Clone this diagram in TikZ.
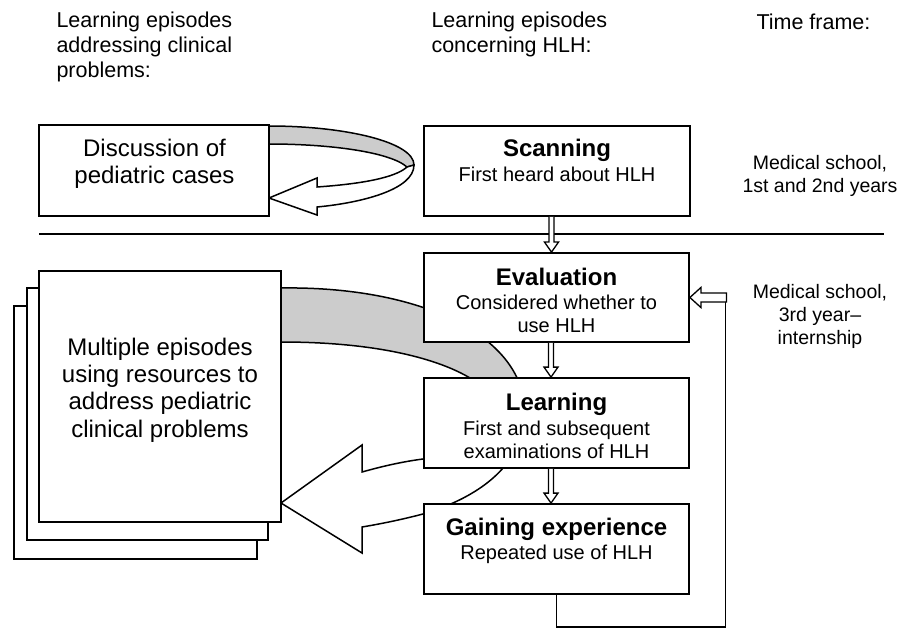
\documentclass[tikz,border=0pt]{standalone}
\usepackage{fontspec}
\setmainfont{Liberation Sans}
\usetikzlibrary{calc}
\newcommand\hollowdown[2]{%
 \draw[hol] let \p1=([xshift=-5.5pt]#1.south), \p2=([xshift=-5.5pt]#2.north) in
  (\x1-2.5pt,\y1) -- (\x1-2.5pt,\y2+10pt) -- (\x1-7pt,\y2+10pt) -- (\x1,\y2) --
  (\x1+7pt,\y2+10pt) -- (\x1+2.5pt,\y2+10pt) -- (\x1+2.5pt,\y1);}
\begin{document}
\begin{tikzpicture}[x=1pt,y=-1pt,
  box/.style={draw,line width=1.8pt,fill=white,inner sep=0pt},
  ttl/.style={font=\bfseries\fontsize{24}{28}\selectfont},
  sub/.style={font=\fontsize{20}{23}\selectfont,align=center},
  big/.style={font=\fontsize{24}{27.3}\selectfont,align=center},
  hdr/.style={font=\fontsize{21.5}{25}\selectfont,align=left,anchor=west},
  tf/.style={font=\fontsize{19.5}{23}\selectfont,align=center},
  band/.style={draw,line width=1.5pt,fill=black!20},
  wband/.style={draw,line width=1.5pt,fill=white,line join=miter},
  hol/.style={draw,line width=1.3pt,fill=white},
  rule/.style={line width=1.5pt},
  fb/.style={line width=1.7pt}]
\useasboundingbox (0,0) rectangle (904,628);

% header texts
\node[hdr] (h1) at (53,47) {Learning episodes\\addressing clinical\\problems:};
\node[hdr] (h2) at (428,34.5) {Learning episodes\\concerning HLH:};
\node[hdr] (h3) at (753,22) {Time frame:};

% divider
\draw[rule] (39,234) -- (884,234);

% loop ribbon next to discussion box
\path[band] (269,126) .. controls (345,126) and (414,142) .. (414,165) -- (407,167)
  .. controls (390,152) and (330,144) .. (269,144) -- cycle;
\path[wband] (407,167) .. controls (395,178) and (360,184) .. (317,187) -- (317,178)
  -- (269,198) -- (317,215) -- (317,207) .. controls (360,203) and (414,190) .. (414,165) -- cycle;

% big ribbon
\path[band] (281,288) .. controls (420,286) and (522,335) .. (525,410) -- (480,400) -- (470,378)
  .. controls (440,360) and (380,342) .. (281,342) -- cycle;
\path[wband] (525,410) .. controls (515,440) and (470,453) .. (423,459)
  .. controls (400,462) and (380,467) .. (362,472) -- (362,445) -- (281,503) -- (362,553)
  -- (362,527) .. controls (380,524) and (400,520) .. (423,514)
  .. controls (470,500) and (525,470) .. (525,410) -- cycle;

% boxes
\node[box,minimum width=230pt,minimum height=91pt] (disc) at (154,170.5) {};
\node[box,minimum width=266pt,minimum height=90pt] (scan) at (557,171) {};
\node[box,minimum width=265pt,minimum height=89pt] (eval) at (556.5,297.5) {};
\node[box,minimum width=265pt,minimum height=90pt] (learn) at (556.5,423) {};
\node[box,minimum width=265pt,minimum height=90pt] (gain) at (556.5,549) {};
\node[box,minimum width=243pt,minimum height=253pt] (m3) at (135.5,432.5) {};
\node[box,minimum width=241pt,minimum height=252pt] (m2) at (147.5,414) {};
\node[box,minimum width=242pt,minimum height=251pt] (m1) at (160,396.5) {};

% box texts
\node[big] (dt) at (154.5,163.5) {Discussion of\\pediatric cases};
\node[ttl] (st) at (557,150) {Scanning};
\node[sub] (ss) at (557,174) {First heard about HLH};
\node[ttl] (et) at (556.5,277) {Evaluation};
\node[sub] (es) at (556.5,313.5) {Considered whether to\\use HLH};
\node[ttl] (lt) at (556.5,404) {Learning};
\node[sub] (ls) at (556.5,440) {First and subsequent\\examinations of HLH};
\node[ttl] (gt) at (556.5,529) {Gaining experience};
\node[sub] (gs) at (556.5,554) {Repeated use of HLH};
\node[big] (mt) at (160,390) {Multiple episodes\\using resources to\\address pediatric\\clinical problems};

% time frames
\node[tf] (t1) at (820,175.5) {Medical school,\\1st and 2nd years};
\node[tf] (t2) at (820,316) {Medical school,\\3rd year–\\internship};

% hollow down arrows
\hollowdown{scan}{eval}
\hollowdown{eval}{learn}
\hollowdown{learn}{gain}

% feedback loop
\coordinate (fbturn) at (725.5,627);
\coordinate (fbend) at (725.5,302);
\draw[fb] (gain.south) |- (fbturn) -- (fbend);
\draw[hol] let \p1=(eval.east) in (\x1+36.5pt,\y1+4.5pt) -- (\x1+11pt,\y1+4.5pt)
  -- (\x1+11pt,\y1+10pt) -- (\x1,\y1) -- (\x1+11pt,\y1-10pt) -- (\x1+11pt,\y1-4.5pt)
  -- (\x1+36.5pt,\y1-4.5pt) -- cycle;
\end{tikzpicture}
\end{document}
